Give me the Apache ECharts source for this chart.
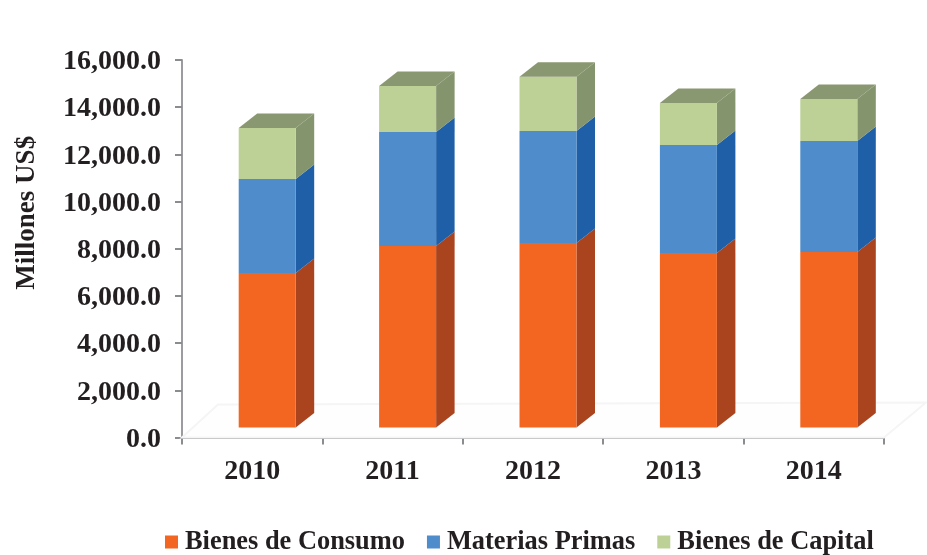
<!DOCTYPE html>
<html><head><meta charset="utf-8">
<style>html,body{margin:0;padding:0;background:#fff}#c{width:927px;height:555px}</style>
<script src="https://cdn.jsdelivr.net/npm/echarts@6/dist/echarts.min.js"></script>
</head><body><div id="c"></div>
<script>
const categories = ['2010','2011','2012','2013','2014'];
const bienesConsumo = [6970, 8120, 8245, 7820, 7860];
const materiasPrimas = [3990, 4830, 4750, 4580, 4710];
const bienesCapital = [2160, 1950, 2290, 1780, 1780];
const seriesNames = ['Bienes de Consumo','Materias Primas','Bienes de Capital'];
const faceColors = ['#F36621','#4F8CCB','#BDD096'];
const sideColors = ['#A9441F','#1F5FA8','#84946C'];
const topColor = '#8A9872';
const FONT = '"Liberation Serif","Times New Roman",serif';
const TXT = '#231F20';
const chart = echarts.init(document.getElementById('c'));
const BAR_W = 57, OFFSET = 15, DEPTH_X = 18.5, DEPTH_Y = 14.5, LIFT = 10;

function poly(points, fill){
  return {type:'polygon', shape:{points}, style:{fill}, silent:true};
}
function barRender(idx, isTop){
  return function(params, api){
    const c = api.value(0), low = api.value(1), high = api.value(2);
    const cx = api.coord([c, 0])[0] + OFFSET;
    const x1 = cx - BAR_W/2, x2 = cx + BAR_W/2;
    let y1 = api.coord([c, low])[1];
    if (low === 0) y1 -= LIFT;
    const y2 = api.coord([c, high])[1];
    const children = [
      poly([[x2,y2],[x2+DEPTH_X,y2-DEPTH_Y],[x2+DEPTH_X,y1-DEPTH_Y],[x2,y1]], sideColors[idx]),
      {type:'rect', shape:{x:x1,y:y2,width:BAR_W,height:y1-y2}, style:{fill:faceColors[idx]}, silent:true}
    ];
    if (isTop) children.push(poly([[x1,y2],[x1+DEPTH_X,y2-DEPTH_Y],[x2+DEPTH_X,y2-DEPTH_Y],[x2,y2]], topColor));
    return {type:'group', children};
  };
}
let base = categories.map(()=>0);
const stacks = [bienesConsumo, materiasPrimas, bienesCapital].map((vals,s)=>{
  const rows = vals.map((v,i)=>[i, base[i], base[i]+v]);
  base = rows.map(r=>r[2]);
  return {
    name: seriesNames[s], type:'custom', z:3+s, clip:false,
    itemStyle:{color:faceColors[s]},
    encode:{x:0,y:[1,2]}, data:rows,
    renderItem: barRender(s, s===2)
  };
});
const floor = {
  type:'custom', silent:true, z:1, clip:false, data:[[0,0]], encode:{x:0,y:1},
  renderItem(params, api){
    const r = params.coordSys;
    const b = api.coord([0,0])[1];
    return {type:'polygon', shape:{points:[[r.x,b],[r.x+36,b-33],[r.x+r.width+42,b-35],[r.x+r.width,b]]},
      style:{fill:'#fefefe',stroke:'#f5f5f5',lineWidth:2}, silent:true};
  }
};
chart.setOption({
  animation:false,
  backgroundColor:'#fff',
  grid:{left:182,right:43,top:60,bottom:117.5},
  legend:{
    data:seriesNames, bottom:-5, left:160, itemWidth:13, itemHeight:13, itemGap:22,
    icon:'rect', selectedMode:false,
    textStyle:{fontFamily:FONT,fontWeight:'bold',fontSize:26.4,color:TXT,padding:[0,0,0,2]}
  },
  xAxis:{
    type:'category', data:categories,
    axisLine:{lineStyle:{color:'#9a9c9f',width:2}},
    axisTick:{show:true,length:7,lineStyle:{color:'#8a8c8f',width:2}},
    axisLabel:{fontFamily:FONT,fontWeight:'bold',fontSize:28,color:TXT,margin:20}
  },
  yAxis:{
    type:'value', min:0, max:16000, interval:2000,
    name:'Millones US$', nameLocation:'middle', nameRotate:90, nameGap:141,
    nameTextStyle:{fontFamily:FONT,fontWeight:'bold',fontSize:27,color:TXT,padding:[0,0,0,72]},
    splitLine:{show:false},
    axisLine:{show:true,lineStyle:{color:'#9a9c9f',width:2}},
    axisTick:{show:true,length:7,lineStyle:{color:'#8a8c8f',width:2}},
    axisLabel:{margin:21,
      formatter:v=>'{a|'+v.toLocaleString('en-US',{minimumFractionDigits:1,maximumFractionDigits:1})+'}',
      rich:{a:{fontFamily:FONT,fontWeight:'bold',fontSize:28,color:TXT,padding:[4,0,0,0]}}}
  },
  series:[floor].concat(stacks)
});
</script></body></html>
